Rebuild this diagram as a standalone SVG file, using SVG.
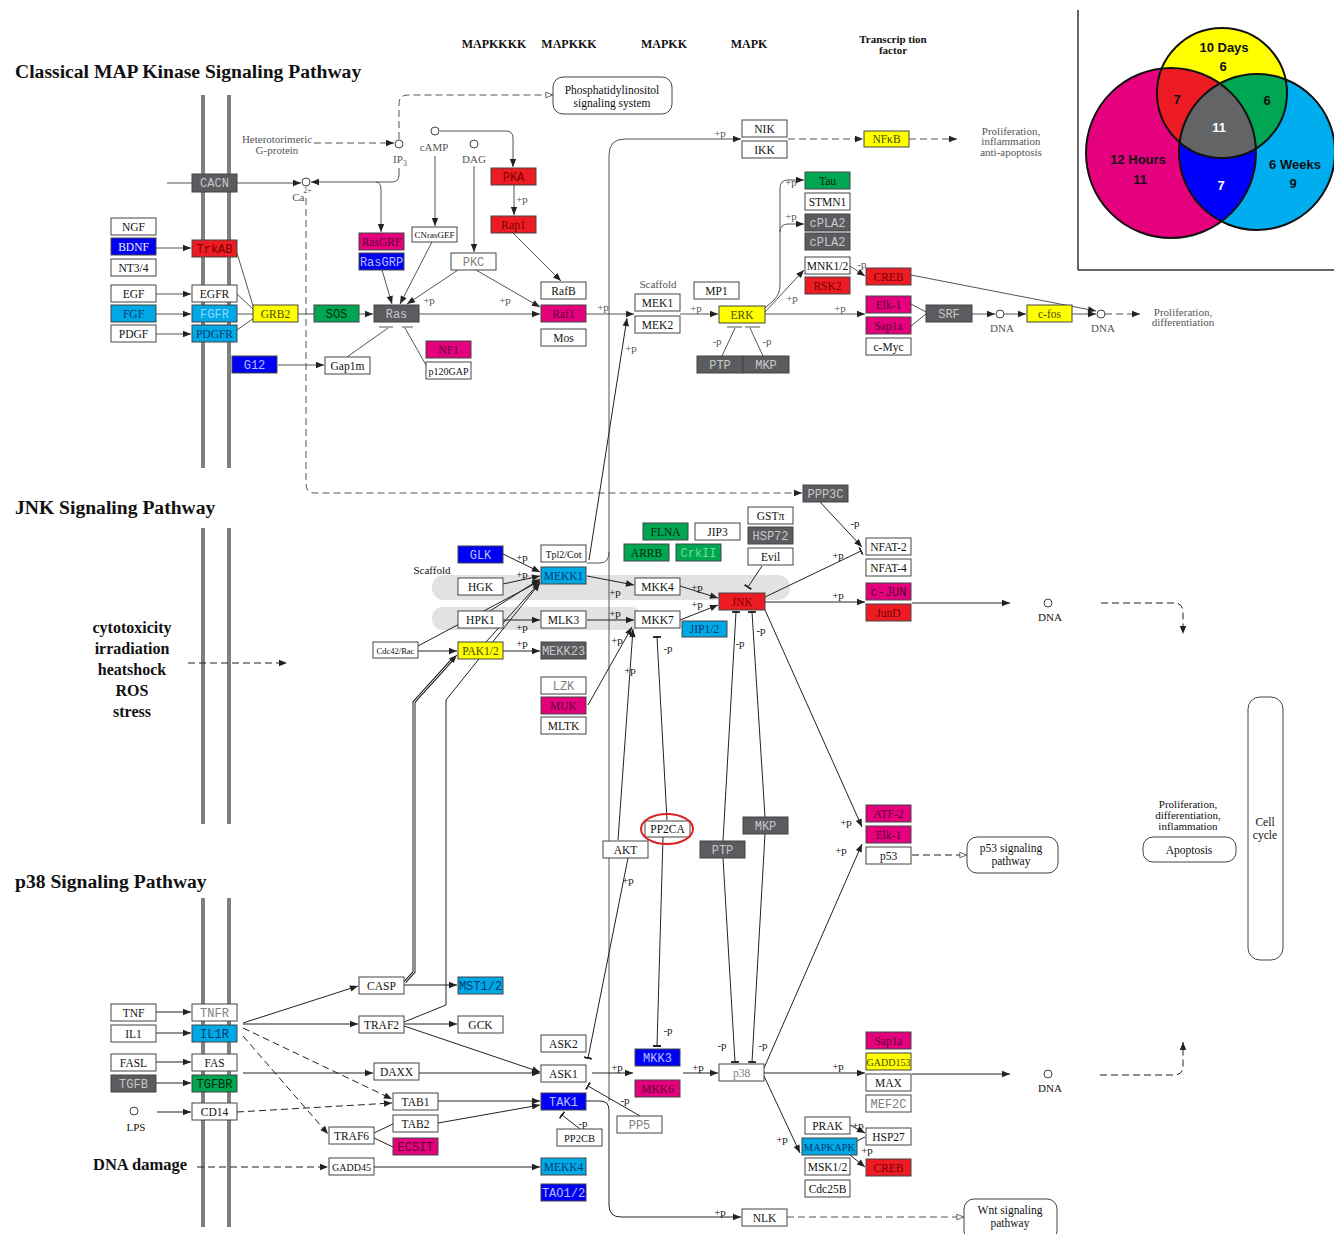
<svg xmlns="http://www.w3.org/2000/svg" width="1334" height="1234" viewBox="0 0 1334 1234">
<style>
rect.n{stroke:#444;stroke-width:1}
.fw{fill:#fff}.fm{fill:#e5007e}.fr{fill:#ed1c24}.fb{fill:#0000f5}.fc{fill:#00a9e6}.fy{fill:#ffff00}.fg{fill:#00a651}.fd{fill:#5c5c60}
text{font-family:"Liberation Serif",serif;font-size:11.5px;text-anchor:middle;fill:#111}
text.m{font-family:"Liberation Mono",monospace;font-size:12px}
.kg{fill:#808080}.tm{fill:#5a0030}.tr{fill:#7a0000}.tb{fill:#b8c0ff}.tc{fill:#003a70}.tcl{fill:#8fd8ff}.ty{fill:#4a4a00}.tg{fill:#002a10}.tgl{fill:#70e090}.td{fill:#c8c8c8}.tw{fill:#f0f0ff}
.c{fill:none;stroke:#222;stroke-width:1}
.cg{fill:none;stroke:#555;stroke-width:1}
.d{stroke-dasharray:7 4}
.lab{font-size:11px}
.pl{font-size:11.5px}
.gl{fill:#555}
.h{font-weight:bold}
.title{font-size:19.6px;font-weight:bold;text-anchor:start}
.big{font-size:16px;font-weight:bold}
.vn{font-family:"Liberation Sans",Arial,sans-serif;font-weight:bold;font-size:13px}
.pw{fill:#fff;stroke:#444;stroke-width:1}
.cpd{fill:#fff;stroke:#444;stroke-width:1}
.mem{stroke:#808080;stroke-width:4}
</style>
<defs>
<marker id="a" viewBox="0 0 10 10" refX="10" refY="5" markerWidth="9" markerHeight="8" markerUnits="userSpaceOnUse" orient="auto"><path d="M0,1 L10,5 L0,9z" fill="#222"/></marker>
<marker id="o" viewBox="0 0 10 10" refX="10" refY="5" markerWidth="9" markerHeight="8" markerUnits="userSpaceOnUse" orient="auto"><path d="M1,1.5 L9.5,5 L1,8.5z" fill="#fff" stroke="#444" stroke-width="1"/></marker>
<marker id="b" viewBox="0 0 4 16" refX="2" refY="8" markerWidth="2" markerHeight="15" markerUnits="userSpaceOnUse" orient="auto"><rect width="4" height="16" fill="#222"/></marker>
<clipPath id="cY"><circle cx="1222" cy="93" r="65"/></clipPath>
<clipPath id="cM"><circle cx="1171" cy="153" r="85"/></clipPath>
<clipPath id="cC"><circle cx="1257" cy="152" r="78"/></clipPath>
</defs>
<rect width="1334" height="1234" fill="#fff"/>

<g id="membranes">
<line class="mem" x1="203" y1="95" x2="203" y2="468"/><line class="mem" x1="229" y1="95" x2="229" y2="468"/>
<line class="mem" x1="203" y1="528" x2="203" y2="824"/><line class="mem" x1="229" y1="528" x2="229" y2="824"/>
<line class="mem" x1="203" y1="898" x2="203" y2="1227"/><line class="mem" x1="229" y1="898" x2="229" y2="1227"/>
</g>

<g id="scaffold-band">
<rect x="432" y="575" width="358" height="25" rx="12" fill="#e2e2e2"/>
<rect x="432" y="607" width="210" height="23" rx="11" fill="#e2e2e2"/>
</g>

<g id="titles">
<text class="title" x="15" y="78">Classical MAP Kinase Signaling Pathway</text>
<text class="title" x="15" y="514">JNK Signaling Pathway</text>
<text class="title" x="15" y="888">p38 Signaling Pathway</text>
<text class="h" x="494" y="48" style="font-size:12px">MAPKKKK</text>
<text class="h" x="569" y="48" style="font-size:12px">MAPKKK</text>
<text class="h" x="664" y="48" style="font-size:12px">MAPKK</text>
<text class="h" x="749" y="48" style="font-size:12px">MAPK</text>
<text class="h" x="893" y="43" style="font-size:11px">Transcrip tion</text>
<text class="h" x="893" y="54" style="font-size:11px">factor</text>
<text class="big" x="132" y="633">cytotoxicity</text>
<text class="big" x="132" y="654">irradiation</text>
<text class="big" x="132" y="675">heatshock</text>
<text class="big" x="132" y="696">ROS</text>
<text class="big" x="132" y="717">stress</text>
<text class="big" x="140" y="1170" style="font-size:16.5px">DNA damage</text>
</g>

<g id="venn">
<line x1="1078" y1="10" x2="1078" y2="270" stroke="#333" stroke-width="1.5"/>
<line x1="1078" y1="270" x2="1334" y2="270" stroke="#333" stroke-width="1.5"/>
<circle cx="1171" cy="153" r="85" fill="#e5007e"/>
<circle cx="1257" cy="152" r="78" fill="#00aeef"/>
<circle cx="1222" cy="93" r="65" fill="#ffff00"/>
<circle cx="1222" cy="93" r="65" fill="#ed1c24" clip-path="url(#cM)"/>
<circle cx="1222" cy="93" r="65" fill="#00a651" clip-path="url(#cC)"/>
<circle cx="1171" cy="153" r="85" fill="#0000ff" clip-path="url(#cC)"/>
<g clip-path="url(#cC)"><circle cx="1222" cy="93" r="65" fill="#636466" clip-path="url(#cM)"/></g>
<circle cx="1171" cy="153" r="85" fill="none" stroke="#111" stroke-width="2"/>
<circle cx="1257" cy="152" r="78" fill="none" stroke="#111" stroke-width="2"/>
<circle cx="1222" cy="93" r="65" fill="none" stroke="#111" stroke-width="2"/>
<text class="vn" x="1224" y="52">10 Days</text>
<text class="vn" x="1223" y="71">6</text>
<text class="vn" x="1177" y="104">7</text>
<text class="vn" x="1267" y="105">6</text>
<text class="vn" x="1219" y="132" style="fill:#fff">11</text>
<text class="vn" x="1138" y="164">12 Hours</text>
<text class="vn" x="1140" y="184">11</text>
<text class="vn" x="1221" y="190" style="fill:#fff">7</text>
<text class="vn" x="1295" y="169">6 Weeks</text>
<text class="vn" x="1293" y="188">9</text>
</g>

<g id="connectors">
<path class="cg" d="M167,183 H192"/>
<path class="cg" d="M237,183 H301" marker-end="url(#a)"/>
<path class="cg d" d="M314,143 H394" marker-end="url(#a)"/>
<path class="cg d" d="M399,139 V104 Q399,95 408,95 H553" marker-end="url(#o)"/>
<path class="cg" d="M399,168 V175 Q399,182 392,182 H311" marker-end="url(#a)"/>
<path class="cg" d="M376,182 Q381,182 381,190 V232" marker-end="url(#a)"/>
<path class="cg" d="M440,131 H506 Q513,131 513,138 V167" marker-end="url(#a)"/>
<path class="cg" d="M435,156 V226" marker-end="url(#a)"/>
<path class="cg" d="M474,166 V252" marker-end="url(#a)"/>
<path class="cg" d="M514,185 V215" marker-end="url(#a)"/>
<path class="cg" d="M513,233 L561,281" marker-end="url(#a)"/>
<path class="cg" d="M382,270 L392,304" marker-end="url(#a)"/>
<path class="cg" d="M432,242 L400,304" marker-end="url(#a)"/>
<path class="cg" d="M458,270 L407,304" marker-end="url(#a)"/>
<path class="cg" d="M476,270 L540,307" marker-end="url(#a)"/>
<path class="cg" d="M237,253 L254,309 M237,294 L254,310 M237,314 H253 M237,330 L254,318"/>
<path class="cg" d="M156,248 H191" marker-end="url(#a)"/>
<path class="cg" d="M156,294 H191" marker-end="url(#a)"/>
<path class="cg" d="M156,314 H191" marker-end="url(#a)"/>
<path class="cg" d="M156,334 H191" marker-end="url(#a)"/>
<path class="cg" d="M298,314 H314"/>
<path class="cg" d="M359,314 H373" marker-end="url(#a)"/>
<path class="cg" d="M278,365 H324" marker-end="url(#a)"/>
<path class="cg" d="M347,357 L388,328 M426,365 L405,328"/>
<path class="cg" d="M379,327 H393 M402,327 H413" stroke-width="1.5"/>
<path class="cg" d="M419,314 H540" marker-end="url(#a)"/>
<path class="cg" d="M586,314 H634" marker-end="url(#a)"/>
<path class="cg" d="M680,314 H718" marker-end="url(#a)"/>
<path class="cg" d="M722,356 L735,328 M763,356 L750,328"/>
<path class="cg" d="M727,327 H742 M745,327 H760" stroke-width="1.5"/>
<path class="cg" d="M765,308 L774,300 Q780,294 780,285 V188 Q780,180 788,180 H804" marker-end="url(#a)"/>
<path class="cg" d="M780,232 Q780,224 788,224 H804" marker-end="url(#a)"/>
<path class="cg" d="M765,312 L804,270" marker-end="url(#a)"/>
<path class="cg" d="M765,314 H865" marker-end="url(#a)"/>
<path class="cg" d="M850,266 L865,276" marker-end="url(#a)"/>
<path class="cg" d="M911,275 L1096,311" marker-end="url(#a)"/>
<path class="cg" d="M911,304 L926,312 M911,326 L926,314"/>
<path class="cg" d="M972,314 H995" marker-end="url(#a)"/>
<path class="cg" d="M1004,314 H1026" marker-end="url(#a)"/>
<path class="cg" d="M1072,314 H1096" marker-end="url(#a)"/>
<path class="cg d" d="M1105,314 H1140" marker-end="url(#a)"/>
<path class="cg" d="M609,1101 V155 Q609,139 625,139 H741" marker-end="url(#a)"/>
<path class="cg" d="M587,563 H600 Q609,563 609,552"/>
<path class="c" d="M589,560 L627,318" marker-end="url(#a)"/>
<path class="cg d" d="M788,139 H863" marker-end="url(#a)"/>
<path class="cg d" d="M909,139 H957" marker-end="url(#a)"/>
<path class="cg d" d="M306,198 V484 Q306,493 315,493 H802" marker-end="url(#a)"/>
<path class="c" d="M820,502 L862,547" marker-end="url(#a)"/>
<path class="c" d="M765,597 L861,551" marker-end="url(#b)"/>
<path class="c" d="M765,602 H865" marker-end="url(#a)"/>
<path class="c" d="M912,603 H1010" marker-end="url(#a)"/>
<path class="c d" d="M1101,603 H1174 Q1183,603 1183,612 V634" marker-end="url(#a)"/>
<path class="c" d="M762,566 L748,587" marker-end="url(#b)"/>
<path class="c" d="M503,554 L540,572" marker-end="url(#a)"/>
<path class="c" d="M503,584 L540,576" marker-end="url(#a)"/>
<path class="c" d="M490,611 L540,579" marker-end="url(#a)"/>
<path class="c" d="M503,620 H540" marker-end="url(#a)"/>
<path class="c" d="M418,646 L540,581" marker-end="url(#a)"/>
<path class="c" d="M486,642 L540,582"/>
<path class="c" d="M587,576 L634,585" marker-end="url(#a)"/>
<path class="c" d="M587,620 H634" marker-end="url(#a)"/>
<path class="c" d="M680,586 L718,598" marker-end="url(#a)"/>
<path class="c" d="M680,620 L718,605" marker-end="url(#a)"/>
<path class="c" d="M618,840 L633,629" marker-end="url(#a)"/>
<path class="c" d="M588,705 L632,627" marker-end="url(#a)"/>
<path class="c" d="M667,820 L657,637" marker-end="url(#b)"/>
<path class="c" d="M723,841 L736,612" marker-end="url(#b)"/>
<path class="c" d="M765,817 L752,612" marker-end="url(#b)"/>
<path class="c" d="M765,610 L862,827" marker-end="url(#a)"/>
<path class="c" d="M503,651 H540" marker-end="url(#a)"/>
<path class="c" d="M418,651 H457" marker-end="url(#a)"/>
<path class="c d" d="M188,663 H287" marker-end="url(#a)"/>
<path d="M405,982 L414,972 V702 L452,660" fill="none" stroke="#222" stroke-width="3"/>
<path d="M405,982 L414,972 V702 L452,660" fill="none" stroke="#fff" stroke-width="1"/>
<path class="c" d="M452,660 L457,655" marker-end="url(#a)"/>
<path class="c" d="M404,1022 L446,1005 V700 L540,583" marker-end="url(#a)"/>
<path class="c" d="M156,1012 H191" marker-end="url(#a)"/>
<path class="c" d="M156,1033 H191" marker-end="url(#a)"/>
<path class="c" d="M156,1062 H191" marker-end="url(#a)"/>
<path class="c" d="M156,1083 H191" marker-end="url(#a)"/>
<path class="c" d="M157,1112 H191" marker-end="url(#a)"/>
<path class="c" d="M243,1023 L358,986" marker-end="url(#a)"/>
<path class="c" d="M243,1024 H358" marker-end="url(#a)"/>
<path class="c d" d="M243,1028 L392,1099" marker-end="url(#a)"/>
<path class="c d" d="M243,1036 L328,1134" marker-end="url(#a)"/>
<path class="c" d="M243,1073 H373" marker-end="url(#a)"/>
<path class="c d" d="M237,1112 L392,1103" marker-end="url(#a)"/>
<path class="c d" d="M197,1167 H328" marker-end="url(#a)"/>
<path class="c" d="M404,985 H457" marker-end="url(#a)"/>
<path class="c" d="M404,1024 H457" marker-end="url(#a)"/>
<path class="c" d="M404,1026 L540,1072" marker-end="url(#a)"/>
<path class="c" d="M419,1073 H540" marker-end="url(#a)"/>
<path class="c" d="M438,1101 H540" marker-end="url(#a)"/>
<path class="c" d="M438,1123 L540,1105" marker-end="url(#a)"/>
<path class="c" d="M374,1133 L393,1124 M374,1138 L393,1147"/>
<path class="c" d="M374,1167 H540" marker-end="url(#a)"/>
<path class="c" d="M592,1073 H633" marker-end="url(#a)"/>
<path class="c" d="M628,858 L588,1058" marker-end="url(#b)"/>
<path class="c" d="M640,1116 L588,1086" marker-end="url(#b)"/>
<path class="c" d="M580,1129 L562,1115" marker-end="url(#b)"/>
<path class="c" d="M683,1073 H718" marker-end="url(#a)"/>
<path class="c" d="M663,837 L657,1046" marker-end="url(#b)"/>
<path class="c" d="M723,858 L735,1062" marker-end="url(#b)"/>
<path class="c" d="M765,834 L752,1062" marker-end="url(#b)"/>
<path class="c" d="M764,1073 H865" marker-end="url(#a)"/>
<path class="c" d="M764,1068 L862,844" marker-end="url(#a)"/>
<path class="c" d="M764,1076 L800,1153" marker-end="url(#a)"/>
<path class="c" d="M850,1125 L865,1133" marker-end="url(#a)"/>
<path class="c" d="M857,1141 L865,1137"/>
<path class="c" d="M850,1155 L865,1167" marker-end="url(#a)"/>
<path class="c" d="M912,1074 H1010" marker-end="url(#a)"/>
<path class="c d" d="M1100,1075 H1174 Q1183,1075 1183,1066 V1042" marker-end="url(#a)"/>
<path class="cg d" d="M787,1217 H964" marker-end="url(#o)"/>
<path class="c d" d="M912,855 H967" marker-end="url(#o)"/>
<path class="c" d="M586,1101 H600 Q609,1101 609,1110 V1205 Q609,1217 621,1217 H741" marker-end="url(#a)"/>
</g>

<g id="edge-labels" class="lab">
<text class="lab gl" x="522" y="203">+p</text><text class="lab gl" x="429" y="304">+p</text><text class="lab gl" x="505" y="304">+p</text>
<text class="lab gl" x="603" y="311">+p</text><text class="lab gl" x="696" y="312">+p</text><text class="lab gl" x="631" y="352">+p</text>
<text class="lab gl" x="717" y="345">-p</text><text class="lab gl" x="767" y="345">-p</text><text class="lab gl" x="791" y="186">+p</text>
<text class="lab gl" x="791" y="220">+p</text><text class="lab gl" x="792" y="302">+p</text><text class="lab gl" x="840" y="312">+p</text>
<text class="lab gl" x="862" y="268">-p</text><text class="lab gl" x="720" y="137">+p</text>
<text class="lab" x="855" y="527">-p</text><text class="lab" x="838" y="559">+p</text><text class="lab" x="838" y="599">+p</text>
<text class="lab" x="522" y="561">+p</text><text class="lab" x="522" y="578">+p</text><text class="lab" x="615" y="596">+p</text>
<text class="lab" x="697" y="591">+p</text><text class="lab" x="697" y="608">+p</text><text class="lab" x="615" y="617">+p</text>
<text class="lab" x="522" y="631">+p</text><text class="lab" x="522" y="647">+p</text><text class="lab" x="617" y="644">+p</text>
<text class="lab" x="630" y="674">+p</text><text class="lab" x="668" y="652">-p</text><text class="lab" x="740" y="647">-p</text>
<text class="lab" x="761" y="634">-p</text><text class="lab" x="846" y="826">+p</text><text class="lab" x="841" y="854">+p</text>
<text class="lab" x="628" y="884">+p</text>
<text class="lab" x="668" y="1034">-p</text><text class="lab" x="617" y="1071">+p</text><text class="lab" x="698" y="1071">+p</text>
<text class="lab" x="722" y="1049">-p</text><text class="lab" x="763" y="1049">-p</text><text class="lab" x="838" y="1070">+p</text>
<text class="lab" x="625" y="1104">-p</text><text class="lab" x="583" y="1127">-p</text><text class="lab" x="782" y="1143">+p</text>
<text class="lab" x="858" y="1129">+p</text><text class="lab" x="867" y="1154">+p</text><text class="lab" x="720" y="1216">+p</text>
</g>

<g id="misc-text">
<text class="lab gl" x="277" y="143">Heterotorimeric</text>
<text class="lab gl" x="277" y="154">G-protein</text>
<text class="lab gl" x="400" y="163">IP<tspan dy="3" style="font-size:8px">3</tspan></text>
<text class="lab gl" x="302" y="201">Ca<tspan dx="-1" dy="-8" style="font-size:8px">2+</tspan></text>
<text class="lab gl" x="434" y="151">cAMP</text>
<text class="lab gl" x="474" y="163">DAG</text>
<text class="lab gl" x="658" y="288">Scaffold</text>
<text class="lab" x="432" y="574">Scaffold</text>
<text class="lab gl" x="1002" y="332">DNA</text>
<text class="lab gl" x="1103" y="332">DNA</text>
<text class="lab gl" x="1011" y="135">Proliferation,</text>
<text class="lab gl" x="1011" y="145">inflammation</text>
<text class="lab gl" x="1011" y="156">anti-apoptosis</text>
<text class="lab gl" x="1183" y="316">Proliferation,</text>
<text class="lab gl" x="1183" y="326">differentiation</text>
<text class="lab" x="1050" y="621">DNA</text>
<text class="lab" x="1050" y="1092">DNA</text>
<text class="lab" x="136" y="1131">LPS</text>
<text class="lab" x="1188" y="808">Proliferation,</text>
<text class="lab" x="1188" y="819">differentiation,</text>
<text class="lab" x="1188" y="830">inflammation</text>
</g>

<g id="compounds">
<circle class="cpd" cx="306" cy="182" r="4"/><circle class="cpd" cx="399" cy="144" r="4"/>
<circle class="cpd" cx="435" cy="131" r="4"/><circle class="cpd" cx="474" cy="144" r="4"/>
<circle class="cpd" cx="1000" cy="314" r="4"/><circle class="cpd" cx="1101" cy="314" r="4"/>
<circle class="cpd" cx="1048" cy="603" r="4"/><circle class="cpd" cx="1048" cy="1074" r="4"/>
<circle class="cpd" cx="134" cy="1111" r="4"/>
</g>

<g id="pathways">
<g id="pw-pi"><rect class="pw" x="553" y="77" width="119" height="37" rx="10"/><text class="pl" x="612" y="94">Phosphatidylinositol</text><text class="pl" x="612" y="107">signaling system</text></g>
<g id="pw-p53"><rect class="pw" x="967" y="837" width="91" height="36" rx="10"/><text class="pl" x="1011" y="852">p53 signaling</text><text class="pl" x="1011" y="865">pathway</text></g>
<g id="pw-apop"><rect class="pw" x="1143" y="837" width="93" height="25" rx="10"/><text class="pl" x="1189" y="854">Apoptosis</text></g>
<g id="pw-cc"><rect class="pw" x="1248" y="697" width="35" height="263" rx="12"/><text class="pl" x="1265" y="826">Cell</text><text class="pl" x="1265" y="839">cycle</text></g>
<g id="pw-wnt"><rect class="pw" x="964" y="1199" width="93" height="42" rx="10"/><text class="pl" x="1010" y="1214">Wnt signaling</text><text class="pl" x="1010" y="1227">pathway</text></g>
</g>

<g id="nodes">
<g id="CACN"><rect class="n fd" x="192" y="174" width="45" height="18"/><text class="m td" x="214.5" y="187">CACN</text></g>
<g id="NGF"><rect class="n fw" x="111" y="218" width="45" height="17"/><text x="133.5" y="230.5">NGF</text></g>
<g id="BDNF"><rect class="n fb" x="111" y="238" width="45" height="17"/><text class="tw" x="133.5" y="250.5">BDNF</text></g>
<g id="NT3-4"><rect class="n fw" x="111" y="259" width="45" height="17"/><text x="133.5" y="271.5">NT3/4</text></g>
<g id="TrkAB"><rect class="n fr" x="192" y="240" width="45" height="17"/><text class="m tr" x="214.5" y="252.5">TrkAB</text></g>
<g id="EGF"><rect class="n fw" x="111" y="285" width="45" height="17"/><text x="133.5" y="297.5">EGF</text></g>
<g id="EGFR"><rect class="n fw" x="192" y="285" width="45" height="17"/><text x="214.5" y="297.5">EGFR</text></g>
<g id="FGF"><rect class="n fc" x="111" y="305" width="45" height="17"/><text class="tc" x="133.5" y="317.5">FGF</text></g>
<g id="FGFR"><rect class="n fc" x="192" y="305" width="45" height="17"/><text class="m tcl" x="214.5" y="317.5">FGFR</text></g>
<g id="PDGF"><rect class="n fw" x="111" y="325" width="45" height="17"/><text x="133.5" y="337.5">PDGF</text></g>
<g id="PDGFR"><rect class="n fc" x="192" y="325" width="45" height="17"/><text class="tc" x="214.5" y="337.5">PDGFR</text></g>
<g id="GRB2"><rect class="n fy" x="253" y="305" width="45" height="17"/><text class="ty" x="275.5" y="317.5">GRB2</text></g>
<g id="SOS"><rect class="n fg" x="314" y="305" width="45" height="17"/><text class="m tg" x="336.5" y="317.5">SOS</text></g>
<g id="Ras"><rect class="n fd" x="374" y="305" width="45" height="17"/><text class="m td" x="396.5" y="317.5">Ras</text></g>
<g id="G12"><rect class="n fb" x="232" y="356" width="45" height="17"/><text class="m tb" x="254.5" y="368.5">G12</text></g>
<g id="Gap1m"><rect class="n fw" x="325" y="357" width="45" height="17"/><text x="347.5" y="369.5">Gap1m</text></g>
<g id="NF1"><rect class="n fm" x="426" y="341" width="45" height="17"/><text class="tm" x="448.5" y="353.5">NF1</text></g>
<g id="p120GAP"><rect class="n fw" x="426" y="362" width="45" height="17"/><text x="448.5" y="374.5" style="font-size:10px">p120GAP</text></g>
<g id="PKA"><rect class="n fr" x="491" y="168" width="45" height="17"/><text class="m tr" x="513.5" y="180.5">PKA</text></g>
<g id="Rap1"><rect class="n fr" x="491" y="216" width="45" height="17"/><text class="tr" x="513.5" y="228.5">Rap1</text></g>
<g id="CNrasGEF"><rect class="n fw" x="412" y="227" width="45" height="15"/><text x="434.5" y="238" style="font-size:9px">CNrasGEF</text></g>
<g id="RasGRF"><rect class="n fm" x="359" y="233" width="45" height="17"/><text class="tm" x="381.5" y="245.5">RasGRF</text></g>
<g id="RasGRP"><rect class="n fb" x="359" y="253" width="45" height="17"/><text class="m tb" x="381.5" y="265.5">RasGRP</text></g>
<g id="PKC"><rect class="n fw" x="451" y="253" width="45" height="17"/><text class="m kg" x="473.5" y="265.5">PKC</text></g>
<g id="RafB"><rect class="n fw" x="541" y="282" width="45" height="17"/><text x="563.5" y="294.5">RafB</text></g>
<g id="Raf1"><rect class="n fm" x="541" y="305" width="45" height="17"/><text class="tm" x="563.5" y="317.5">Raf1</text></g>
<g id="Mos"><rect class="n fw" x="541" y="329" width="45" height="17"/><text x="563.5" y="341.5">Mos</text></g>
<g id="MEK1"><rect class="n fw" x="635" y="294" width="45" height="17"/><text x="657.5" y="306.5">MEK1</text></g>
<g id="MEK2"><rect class="n fw" x="635" y="316" width="45" height="17"/><text x="657.5" y="328.5">MEK2</text></g>
<g id="MP1"><rect class="n fw" x="694" y="282" width="45" height="17"/><text x="716.5" y="294.5">MP1</text></g>
<g id="ERK"><rect class="n fy" x="719" y="306" width="46" height="17"/><text class="ty" x="742" y="318.5">ERK</text></g>
<g id="PTP-1"><rect class="n fd" x="697" y="356" width="46" height="17"/><text class="m td" x="720" y="368.5">PTP</text></g>
<g id="MKP-1"><rect class="n fd" x="743" y="356" width="46" height="17"/><text class="m td" x="766" y="368.5">MKP</text></g>
<g id="NIK"><rect class="n fw" x="742" y="120" width="45" height="17"/><text x="764.5" y="132.5">NIK</text></g>
<g id="IKK"><rect class="n fw" x="742" y="141" width="45" height="17"/><text x="764.5" y="153.5">IKK</text></g>
<g id="NFkB"><rect class="n fy" x="864" y="131" width="45" height="16"/><text class="ty" x="886.5" y="143">NFκB</text></g>
<g id="Tau"><rect class="n fg" x="805" y="172" width="45" height="17"/><text class="tg" x="827.5" y="184.5">Tau</text></g>
<g id="STMN1"><rect class="n fw" x="805" y="193" width="45" height="17"/><text x="827.5" y="205.5">STMN1</text></g>
<g id="cPLA2-1"><rect class="n fd" x="805" y="214" width="45" height="17"/><text class="m td" x="827.5" y="226.5">cPLA2</text></g>
<g id="cPLA2-2"><rect class="n fd" x="805" y="233" width="45" height="17"/><text class="m td" x="827.5" y="245.5">cPLA2</text></g>
<g id="MNK1-2"><rect class="n fw" x="805" y="257" width="45" height="17"/><text x="827.5" y="269.5">MNK1/2</text></g>
<g id="RSK2"><rect class="n fr" x="805" y="277" width="45" height="17"/><text class="tr" x="827.5" y="289.5">RSK2</text></g>
<g id="CREB-1"><rect class="n fr" x="866" y="268" width="45" height="17"/><text class="tr" x="888.5" y="280.5">CREB</text></g>
<g id="Elk-1-1"><rect class="n fm" x="866" y="296" width="45" height="17"/><text class="tm" x="888.5" y="308.5">Elk-1</text></g>
<g id="Sap1a-1"><rect class="n fm" x="866" y="317" width="45" height="17"/><text class="tm" x="888.5" y="329.5">Sap1a</text></g>
<g id="c-Myc"><rect class="n fw" x="866" y="338" width="45" height="17"/><text x="888.5" y="350.5">c-Myc</text></g>
<g id="SRF"><rect class="n fd" x="926" y="305" width="46" height="17"/><text class="m td" x="949" y="317.5">SRF</text></g>
<g id="c-fos"><rect class="n fy" x="1027" y="305" width="45" height="17"/><text class="ty" x="1049.5" y="317.5">c-fos</text></g>

<g id="PPP3C"><rect class="n fd" x="803" y="485" width="45" height="17"/><text class="m td" x="825.5" y="497.5">PPP3C</text></g>
<g id="GSTpi"><rect class="n fw" x="748" y="507" width="45" height="17"/><text x="770.5" y="519.5">GSTπ</text></g>
<g id="HSP72"><rect class="n fd" x="748" y="527" width="45" height="17"/><text class="m td" x="770.5" y="539.5">HSP72</text></g>
<g id="Evil"><rect class="n fw" x="748" y="548" width="45" height="17"/><text x="770.5" y="560.5">Evil</text></g>
<g id="FLNA"><rect class="n fg" x="643" y="523" width="45" height="17"/><text class="tg" x="665.5" y="535.5">FLNA</text></g>
<g id="JIP3"><rect class="n fw" x="695" y="523" width="45" height="17"/><text x="717.5" y="535.5">JIP3</text></g>
<g id="ARRB"><rect class="n fg" x="624" y="544" width="45" height="17"/><text class="tg" x="646.5" y="556.5">ARRB</text></g>
<g id="CrkII"><rect class="n fg" x="676" y="544" width="45" height="17"/><text class="m tgl" x="698.5" y="556.5">CrkII</text></g>
<g id="GLK"><rect class="n fb" x="458" y="546" width="45" height="17"/><text class="m tb" x="480.5" y="558.5">GLK</text></g>
<g id="Tpl2-Cot"><rect class="n fw" x="541" y="545" width="45" height="17"/><text x="563.5" y="557.5" style="font-size:10px">Tpl2/Cot</text></g>
<g id="MEKK1"><rect class="n fc" x="541" y="567" width="45" height="17"/><text class="tc" x="563.5" y="579.5">MEKK1</text></g>
<g id="HGK"><rect class="n fw" x="458" y="578" width="45" height="17"/><text x="480.5" y="590.5">HGK</text></g>
<g id="MKK4"><rect class="n fw" x="635" y="578" width="45" height="17"/><text x="657.5" y="590.5">MKK4</text></g>
<g id="JNK"><rect class="n fr" x="719" y="593" width="46" height="17"/><text class="tr" x="742" y="605.5">JNK</text></g>
<g id="HPK1"><rect class="n fw" x="458" y="611" width="45" height="17"/><text x="480.5" y="623.5">HPK1</text></g>
<g id="MLK3"><rect class="n fw" x="541" y="611" width="45" height="17"/><text x="563.5" y="623.5">MLK3</text></g>
<g id="MKK7"><rect class="n fw" x="635" y="611" width="45" height="17"/><text x="657.5" y="623.5">MKK7</text></g>
<g id="JIP1-2"><rect class="n fc" x="682" y="621" width="45" height="16"/><text class="tc" x="704.5" y="633">JIP1/2</text></g>
<g id="NFAT-2"><rect class="n fw" x="866" y="538" width="45" height="17"/><text x="888.5" y="550.5">NFAT-2</text></g>
<g id="NFAT-4"><rect class="n fw" x="866" y="559" width="45" height="17"/><text x="888.5" y="571.5">NFAT-4</text></g>
<g id="c-JUN"><rect class="n fm" x="866" y="583" width="45" height="17"/><text class="m tm" x="888.5" y="595.5">c-JUN</text></g>
<g id="JunD"><rect class="n fr" x="866" y="604" width="45" height="17"/><text class="tr" x="888.5" y="616.5">JunD</text></g>
<g id="Cdc42-Rac"><rect class="n fw" x="373" y="642" width="45" height="16"/><text x="395.5" y="654" style="font-size:8.5px">Cdc42/Rac</text></g>
<g id="PAK1-2"><rect class="n fy" x="458" y="642" width="45" height="17"/><text class="ty" x="480.5" y="654.5">PAK1/2</text></g>
<g id="MEKK23"><rect class="n fd" x="541" y="642" width="45" height="17"/><text class="m td" x="563.5" y="654.5">MEKK23</text></g>
<g id="LZK"><rect class="n fw" x="541" y="677" width="45" height="17"/><text class="m kg" x="563.5" y="689.5">LZK</text></g>
<g id="MUK"><rect class="n fm" x="541" y="697" width="45" height="17"/><text class="tm" x="563.5" y="709.5">MUK</text></g>
<g id="MLTK"><rect class="n fw" x="541" y="717" width="45" height="17"/><text x="563.5" y="729.5">MLTK</text></g>
<g id="PP2CA"><rect class="n fw" x="645" y="821" width="45" height="16"/><text x="667.5" y="833">PP2CA</text><ellipse cx="667" cy="829" rx="26" ry="15" fill="none" stroke="#e02020" stroke-width="2"/></g>
<g id="AKT"><rect class="n fw" x="603" y="841" width="45" height="17"/><text x="625.5" y="853.5">AKT</text></g>
<g id="PTP-2"><rect class="n fd" x="700" y="841" width="45" height="17"/><text class="m td" x="722.5" y="853.5">PTP</text></g>
<g id="MKP-2"><rect class="n fd" x="743" y="817" width="45" height="17"/><text class="m td" x="765.5" y="829.5">MKP</text></g>
<g id="ATF-2"><rect class="n fm" x="866" y="805" width="45" height="17"/><text class="tm" x="888.5" y="817.5">ATF-2</text></g>
<g id="Elk-1-2"><rect class="n fm" x="866" y="826" width="45" height="17"/><text class="tm" x="888.5" y="838.5">Elk-1</text></g>
<g id="p53"><rect class="n fw" x="866" y="847" width="45" height="17"/><text x="888.5" y="859.5">p53</text></g>

<g id="CASP"><rect class="n fw" x="359" y="977" width="45" height="17"/><text x="381.5" y="989.5">CASP</text></g>
<g id="MST1-2"><rect class="n fc" x="458" y="977" width="45" height="17"/><text class="m tc" x="480.5" y="989.5">MST1/2</text></g>
<g id="TRAF2"><rect class="n fw" x="359" y="1016" width="45" height="17"/><text x="381.5" y="1028.5">TRAF2</text></g>
<g id="GCK"><rect class="n fw" x="458" y="1016" width="45" height="17"/><text x="480.5" y="1028.5">GCK</text></g>
<g id="TNF"><rect class="n fw" x="111" y="1004" width="45" height="17"/><text x="133.5" y="1016.5">TNF</text></g>
<g id="TNFR"><rect class="n fw" x="192" y="1004" width="45" height="17"/><text class="m kg" x="214.5" y="1016.5">TNFR</text></g>
<g id="IL1"><rect class="n fw" x="111" y="1025" width="45" height="17"/><text x="133.5" y="1037.5">IL1</text></g>
<g id="IL1R"><rect class="n fc" x="192" y="1025" width="45" height="17"/><text class="m tc" x="214.5" y="1037.5">IL1R</text></g>
<g id="FASL"><rect class="n fw" x="111" y="1054" width="45" height="17"/><text x="133.5" y="1066.5">FASL</text></g>
<g id="FAS"><rect class="n fw" x="192" y="1054" width="45" height="17"/><text x="214.5" y="1066.5">FAS</text></g>
<g id="TGFB"><rect class="n fd" x="111" y="1075" width="45" height="17"/><text class="m td" x="133.5" y="1087.5">TGFB</text></g>
<g id="TGFBR"><rect class="n fg" x="192" y="1075" width="45" height="17"/><text class="m tg" x="214.5" y="1087.5">TGFBR</text></g>
<g id="CD14"><rect class="n fw" x="192" y="1103" width="45" height="17"/><text x="214.5" y="1115.5">CD14</text></g>
<g id="DAXX"><rect class="n fw" x="374" y="1063" width="45" height="17"/><text x="396.5" y="1075.5">DAXX</text></g>
<g id="TAB1"><rect class="n fw" x="393" y="1093" width="45" height="17"/><text x="415.5" y="1105.5">TAB1</text></g>
<g id="TAB2"><rect class="n fw" x="393" y="1115" width="45" height="17"/><text x="415.5" y="1127.5">TAB2</text></g>
<g id="TRAF6"><rect class="n fw" x="329" y="1127" width="45" height="17"/><text x="351.5" y="1139.5">TRAF6</text></g>
<g id="ECSIT"><rect class="n fm" x="393" y="1138" width="45" height="17"/><text class="m tm" x="415.5" y="1150.5">ECSIT</text></g>
<g id="GADD45"><rect class="n fw" x="329" y="1158" width="45" height="17"/><text x="351.5" y="1170.5" style="font-size:10px">GADD45</text></g>
<g id="ASK2"><rect class="n fw" x="541" y="1035" width="45" height="17"/><text x="563.5" y="1047.5">ASK2</text></g>
<g id="ASK1"><rect class="n fw" x="541" y="1065" width="45" height="17"/><text x="563.5" y="1077.5">ASK1</text></g>
<g id="TAK1"><rect class="n fb" x="541" y="1093" width="45" height="17"/><text class="m tb" x="563.5" y="1105.5">TAK1</text></g>
<g id="PP2CB"><rect class="n fw" x="557" y="1129" width="45" height="17"/><text x="579.5" y="1141.5" style="font-size:10.5px">PP2CB</text></g>
<g id="PP5"><rect class="n fw" x="617" y="1116" width="45" height="17"/><text class="m kg" x="639.5" y="1128.5">PP5</text></g>
<g id="MEKK4"><rect class="n fc" x="541" y="1158" width="45" height="17"/><text class="tc" x="563.5" y="1170.5">MEKK4</text></g>
<g id="TAO1-2"><rect class="n fb" x="541" y="1184" width="45" height="17"/><text class="m tb" x="563.5" y="1196.5">TAO1/2</text></g>
<g id="MKK3"><rect class="n fb" x="635" y="1049" width="45" height="17"/><text class="m tb" x="657.5" y="1061.5">MKK3</text></g>
<g id="MKK6"><rect class="n fm" x="635" y="1080" width="45" height="17"/><text class="tm" x="657.5" y="1092.5">MKK6</text></g>
<g id="p38"><rect class="n fw" x="719" y="1064" width="45" height="17"/><text class="kg" x="741.5" y="1076.5">p38</text></g>
<g id="Sap1a-2"><rect class="n fm" x="866" y="1032" width="45" height="17"/><text class="tm" x="888.5" y="1044.5">Sap1a</text></g>
<g id="GADD153"><rect class="n fy" x="866" y="1053" width="45" height="17"/><text class="ty" x="888.5" y="1065.5" style="font-size:10px">GADD153</text></g>
<g id="MAX"><rect class="n fw" x="866" y="1074" width="45" height="17"/><text x="888.5" y="1086.5">MAX</text></g>
<g id="MEF2C"><rect class="n fw" x="866" y="1095" width="45" height="17"/><text class="m kg" x="888.5" y="1107.5">MEF2C</text></g>
<g id="PRAK"><rect class="n fw" x="805" y="1117" width="45" height="17"/><text x="827.5" y="1129.5">PRAK</text></g>
<g id="MAPKAPK"><rect class="n fc" x="802" y="1138" width="55" height="17"/><text class="tc" x="829.5" y="1150.5" style="font-size:10.5px">MAPKAPK</text></g>
<g id="MSK1-2"><rect class="n fw" x="805" y="1158" width="45" height="17"/><text x="827.5" y="1170.5">MSK1/2</text></g>
<g id="Cdc25B"><rect class="n fw" x="805" y="1180" width="45" height="17"/><text x="827.5" y="1192.5">Cdc25B</text></g>
<g id="HSP27"><rect class="n fw" x="866" y="1128" width="45" height="17"/><text x="888.5" y="1140.5">HSP27</text></g>
<g id="CREB-2"><rect class="n fr" x="866" y="1159" width="45" height="17"/><text class="tr" x="888.5" y="1171.5">CREB</text></g>
<g id="NLK"><rect class="n fw" x="742" y="1209" width="45" height="17"/><text x="764.5" y="1221.5">NLK</text></g>
</g>
</svg>
